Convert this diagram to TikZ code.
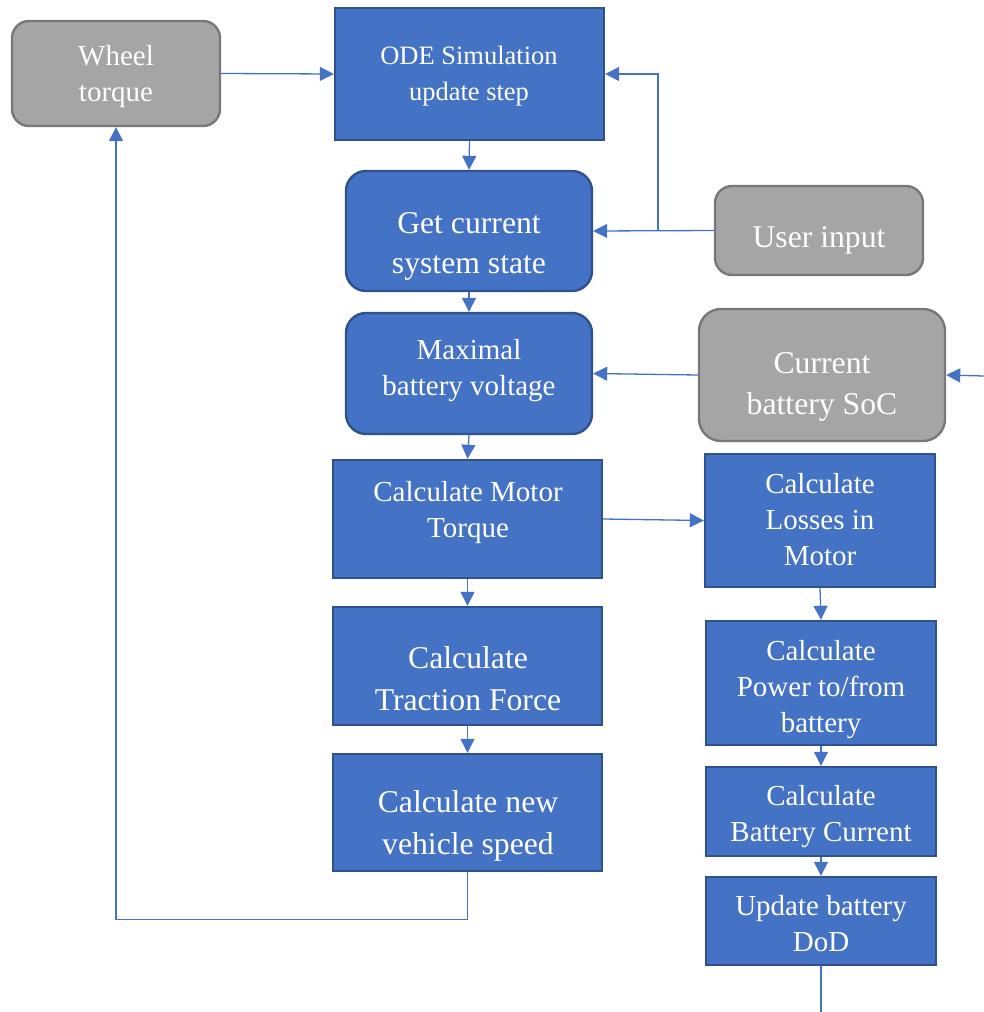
\documentclass[tikz,border=0pt]{standalone}
\usepackage{fontspec}
\setmainfont{Liberation Serif}
\usetikzlibrary{arrows.meta}

\definecolor{boxblue}{HTML}{4472C4}
\definecolor{edgeblue}{HTML}{2F528F}
\definecolor{boxgray}{HTML}{A5A5A5}
\definecolor{edgegray}{HTML}{787878}

\tikzset{
  bluebox/.style={draw=edgeblue, fill=boxblue, line width=2.4pt, inner sep=0pt},
  bluerbox/.style={bluebox, rounded corners=20pt},
  graybox/.style={draw=edgegray, fill=boxgray, line width=2.4pt, inner sep=0pt, rounded corners=17pt},
  txt/.style={text=white, align=center, inner sep=0pt, yshift=-3.5pt},
  fsA/.style={font=\fontsize{26.5}{36}\selectfont},
  fsB/.style={font=\fontsize{29}{36}\selectfont},
  fsC/.style={font=\fontsize{31.7}{41}\selectfont},
  conn/.style={draw=boxblue, line width=1.3pt},
  arr/.style={conn, -{Triangle[length=14pt,width=14pt]}},
}

\begin{document}
\begin{tikzpicture}[x=1pt,y=-1pt]
\useasboundingbox (0,0) rectangle (984,1012);

% boxes
\node[graybox, minimum width=208pt, minimum height=105pt] (wheel) at (116,73.5) {};
\node[bluebox, minimum width=269pt, minimum height=132pt] (ode) at (469.5,74) {};
\node[bluerbox, minimum width=246pt, minimum height=120pt] (get) at (469,231) {};
\node[graybox, minimum width=208pt, minimum height=89pt] (user) at (819,230.5) {};
\node[bluerbox, minimum width=246pt, minimum height=121pt] (vmax) at (469,373.5) {};
\node[graybox, rounded corners=22pt, minimum width=246pt, minimum height=132pt] (soc) at (822,375) {};
\node[bluebox, minimum width=269pt, minimum height=118pt] (motor) at (467.5,519) {};
\node[bluebox, minimum width=230pt, minimum height=133pt] (losses) at (820,520.5) {};
\node[bluebox, minimum width=269pt, minimum height=118pt] (traction) at (467.5,666) {};
\node[bluebox, minimum width=269pt, minimum height=117pt] (speed) at (467.5,812.5) {};
\node[bluebox, minimum width=230pt, minimum height=124pt] (power) at (821,683) {};
\node[bluebox, minimum width=230pt, minimum height=89pt] (battcur) at (821,811.5) {};
\node[bluebox, minimum width=230pt, minimum height=88pt] (dod) at (821,921) {};

% labels
\node[txt, fsB] (wheelT) at (116,73) {Wheel\\torque};
\node[txt, fsA] (odeT) at (469,73) {ODE Simulation\\update step};
\node[txt, fsC, font=\fontsize{31.7}{40}\selectfont] (getT) at (469,243) {Get current\\system state};
\node[txt, fsC] (userT) at (819,237) {User input};
\node[txt, fsB] (vmaxT) at (469,367) {Maximal\\battery voltage};
\node[txt, fsC] (socT) at (822,383) {Current\\battery SoC};
\node[txt, fsB] (motorT) at (468,509) {Calculate Motor\\Torque};
\node[txt, fsB] (lossesT) at (820,516) {Calculate\\Losses in\\Motor};
\node[txt, fsC, font=\fontsize{31.7}{42}\selectfont] (tractionT) at (468,675) {Calculate\\Traction Force};
\node[txt, fsC, font=\fontsize{31.7}{42}\selectfont] (speedT) at (468,822) {Calculate new\\vehicle speed};
\node[txt, fsB] (powerT) at (821,686.5) {Calculate\\Power to/from\\battery};
\node[txt, fsB] (battcurT) at (821,813) {Calculate\\Battery Current};
\node[txt, fsB] (dodT) at (821,920.5) {Update battery\\DoD};

% free ends of connectors
\coordinate (split) at (658,231);
\coordinate (socIn) at (984,376);
\coordinate (dodOut) at (821,1012);

% connectors
\draw[arr] (wheel.east) -- (ode.west);
\draw[arr] (ode.south) -- (get.north);
\draw[arr] (user.west) -- (get.east);
\draw[arr] (split) |- (ode.east);
\draw[arr] (get.south) -- (vmax.north);
\draw[arr] (soc.west) -- (vmax.east);
\draw[arr] (socIn) -- (soc.east);
\draw[arr] (vmax.south) -- (motor.north);
\draw[arr] (motor.east) -- (losses.west);
\draw[arr] (motor.south) -- (traction.north);
\draw[arr] (traction.south) -- (speed.north);
\draw[arr] (speed.south) -- ++(0,47) -| (wheel.south);
\draw[arr] (losses.south) -- (power.north);
\draw[arr] (power.south) -- (battcur.north);
\draw[arr] (battcur.south) -- (dod.north);
\draw[conn] (dod.south) -- (dodOut);
\end{tikzpicture}
\end{document}
